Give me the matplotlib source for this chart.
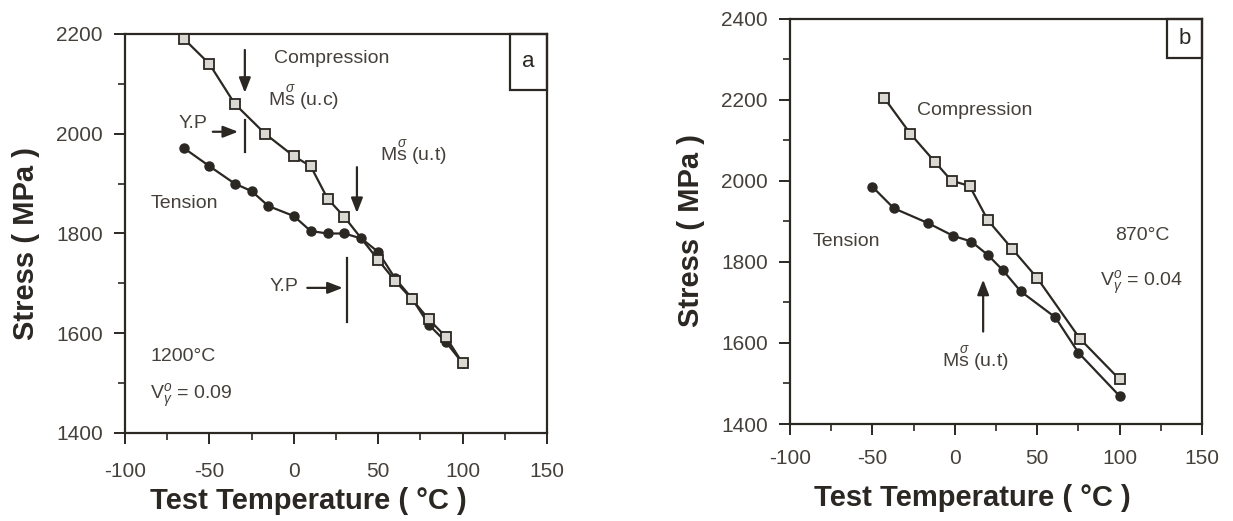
import matplotlib
matplotlib.use("Agg")
import matplotlib.pyplot as plt
from matplotlib.patches import Rectangle

plt.rcParams['font.family'] = ['Liberation Sans', 'DejaVu Sans']
plt.rcParams['mathtext.fontset'] = 'custom'
plt.rcParams['mathtext.rm'] = 'Liberation Sans'
plt.rcParams['mathtext.it'] = 'Liberation Sans:italic'
plt.rcParams['mathtext.sf'] = 'Liberation Sans'
plt.rcParams['axes.unicode_minus'] = False

# ---------------- data ----------------
a_comp_T = [-65, -50, -35, -17, 0, 10, 20, 30, 50, 60, 70, 80, 90, 100]
a_comp_S = [2190, 2140, 2060, 2000, 1955, 1935, 1870, 1833, 1747, 1705, 1668, 1628, 1593, 1540]
a_tens_T = [-65, -50, -35, -25, -15, 0, 10, 20, 30, 40, 50, 60, 70, 80, 90, 100]
a_tens_S = [1971, 1935, 1900, 1885, 1855, 1835, 1805, 1800, 1800, 1790, 1763, 1710, 1670, 1617, 1583, 1540]

b_comp_T = [-43, -27, -12, -2, 9, 20, 35, 50, 76, 100]
b_comp_S = [2205, 2116, 2046, 2000, 1987, 1903, 1831, 1760, 1610, 1510]
b_tens_T = [-50, -37, -16, -1, 10, 20, 29, 40, 61, 75, 100]
b_tens_S = [1985, 1932, 1895, 1864, 1850, 1817, 1780, 1727, 1663, 1576, 1469]

x_ticks = [-100, -50, 0, 50, 100, 150]
a_yticks = [1400, 1600, 1800, 2000, 2200]
b_yticks = [1400, 1600, 1800, 2000, 2200, 2400]

INK = '#2b2723'
TXT = '#45403a'
SQFACE = '#d9d8d2'

fig = plt.figure(figsize=(12.33, 5.21), dpi=100)
axa = fig.add_axes([125/1233, 1 - 433/521, 422/1233, 399/521])
axb = fig.add_axes([790/1233, 1 - 424/521, 412/1233, 405.5/521])


def style(ax, yticks, ylim, xl_pos, yl_pos, xpad):
    ax.set_xlim(-100, 150)
    ax.set_ylim(*ylim)
    ax.set_xticks(x_ticks)
    ax.set_xticks(range(-100, 151, 25), minor=True)
    ax.set_yticks(yticks)
    ax.set_yticks(range(ylim[0], ylim[1] + 1, 100), minor=True)
    ax.tick_params(which='major', direction='out', length=8, width=1.4, color=INK,
                   labelsize=15, labelcolor=TXT)
    ax.tick_params(axis='x', which='major', pad=xpad)
    ax.tick_params(axis='y', which='major', pad=8)
    ax.tick_params(which='minor', direction='out', length=5, width=1.2, color=INK)
    for s in ax.spines.values():
        s.set_color(INK)
        s.set_linewidth(1.6)
    ax.set_xlabel('Test Temperature ( °C )', fontsize=21, fontweight='bold', color=INK)
    ax.set_ylabel('Stress ( MPa )', fontsize=21, fontweight='bold', color=INK)
    ax.xaxis.set_label_coords(*xl_pos)
    ax.yaxis.set_label_coords(*yl_pos)


def curves(ax, cT, cS, tT, tS):
    ax.plot(tT, tS, '-', color=INK, lw=1.6, marker='o', ms=6.5,
            mfc=INK, mec=INK, zorder=3)
    ax.plot(cT, cS, '-', color=INK, lw=1.6, marker='s', ms=6.5,
            mfc=SQFACE, mec=INK, mew=1.3, zorder=4, clip_on=False)


def arrow(ax, tip, tail):
    ax.annotate('', xy=tip, xytext=tail,
                arrowprops=dict(arrowstyle='-|>,head_length=0.9,head_width=0.35',
                                color=INK, lw=1.6, shrinkA=0, shrinkB=0))


def tag(ax, letter, x0, y0):
    ax.add_patch(Rectangle((x0, y0), 1 - x0, 1 - y0, transform=ax.transAxes,
                           fill=False, ec=INK, lw=1.6, clip_on=False))
    ax.text((1 + x0) / 2, (1 + y0) / 2, letter, transform=ax.transAxes,
            ha='center', va='center', fontsize=16, color=INK)


# ---------------- panel a ----------------
style(axa, a_yticks, (1400, 2200), (0.434, -0.135), (-0.201, 0.474), 13)
curves(axa, a_comp_T, a_comp_S, a_tens_T, a_tens_S)
fs = 14
axa.text(-12, 2150, 'Compression', fontsize=fs, color=TXT, ha='left', va='center')
axa.text(-15, 2072, r'M$\overset{\sigma}{\mathrm{s}}$ (u.c)', fontsize=fs, color=TXT,
         ha='left', va='center')
axa.text(51, 1962, r'M$\overset{\sigma}{\mathrm{s}}$ (u.t)', fontsize=fs, color=TXT,
         ha='left', va='center')
axa.text(-85, 1861, 'Tension', fontsize=fs, color=TXT, ha='left', va='center')
axa.text(-60, 2020, 'Y.P', fontsize=fs, color=TXT, ha='center', va='center')
axa.text(-6, 1693, 'Y.P', fontsize=fs, color=TXT, ha='center', va='center')
axa.text(-85, 1553, '1200°C', fontsize=fs, color=TXT, ha='left', va='center')
axa.text(-85, 1475, r'V$_{\gamma}^{o}$ = 0.09', fontsize=fs, color=TXT, ha='left', va='center')
arrow(axa, (-29, 2082), (-29, 2168))
arrow(axa, (37.4, 1841), (37.4, 1933))
arrow(axa, (-33, 2004), (-48, 2004))
arrow(axa, (29, 1691), (8, 1691))
axa.plot([-29, -29], [2028, 1964], color=INK, lw=1.6)
axa.plot([31.5, 31.5], [1751, 1623], color=INK, lw=1.6)
tag(axa, 'a', 0.912, 0.86)

# ---------------- panel b ----------------
style(axb, b_yticks, (1400, 2400), (0.442, -0.148), (-0.206, 0.476), 10)
curves(axb, b_comp_T, b_comp_S, b_tens_T, b_tens_S)
axb.text(12, 2173, 'Compression', fontsize=fs, color=TXT, ha='center', va='center')
axb.text(-86, 1849, 'Tension', fontsize=fs, color=TXT, ha='left', va='center')
axb.text(97, 1866, '870°C', fontsize=fs, color=TXT, ha='left', va='center')
axb.text(88, 1748, r'V$_{\gamma}^{o}$ = 0.04', fontsize=fs, color=TXT, ha='left', va='center')
axb.text(-8, 1560, r'M$\overset{\sigma}{\mathrm{s}}$ (u.t)', fontsize=fs, color=TXT,
         ha='left', va='center')
arrow(axb, (17.2, 1756), (17.2, 1628))
tag(axb, 'b', 0.916, 0.903)

fig.savefig('out.png', dpi=100, facecolor='white')
